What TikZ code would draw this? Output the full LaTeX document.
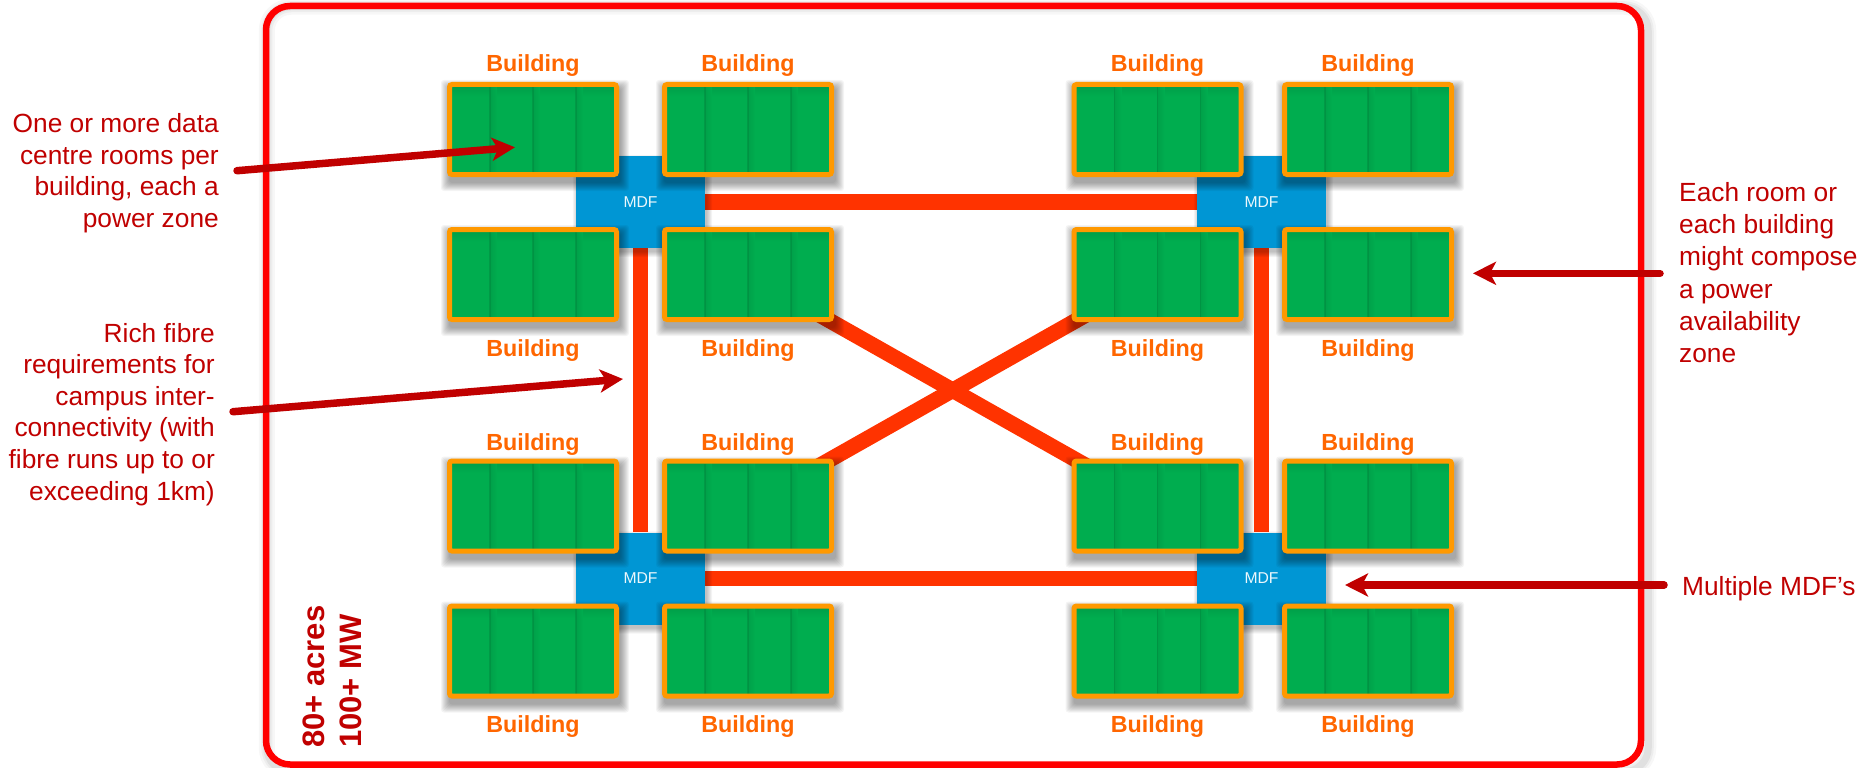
\documentclass[tikz,border=0pt]{standalone}
\usepackage{fontspec}
\setmainfont{Liberation Sans}
\usetikzlibrary{arrows.meta}

\definecolor{frameRed}{HTML}{FF0000}
\definecolor{bGreen}{HTML}{00AD4F}
\definecolor{bGreenDark}{HTML}{00A049}
\definecolor{bOrange}{HTML}{FF9900}
\definecolor{labOrange}{HTML}{FF6600}
\definecolor{mdfBlue}{HTML}{0096D4}
\definecolor{fibreRed}{HTML}{FF3300}
\definecolor{noteRed}{HTML}{C00000}

\pgfdeclarelayer{bg}
\pgfdeclarelayer{mdf}
\pgfdeclarelayer{shade}
\pgfsetlayers{bg,mdf,shade,main}

% soft drop shadow under a node: #1 node, #2 right offset, #3 down offset, #4 blur steps
\newcommand\softshadow[4]{%
  \foreach \k in {0,...,#4}{%
    \fill[black, opacity=0.045, rounded corners=3pt]
      ([xshift=#2pt-\k pt, yshift=-#3pt-\k pt]#1.south west) rectangle
      ([xshift=#2pt+\k pt, yshift=-#3pt+\k pt]#1.north east);
  }}

\begin{document}
\begin{tikzpicture}[x=1pt, y=-1pt,
  bldg/.style={draw=bOrange, line width=5pt, fill=bGreen, rounded corners=2.5pt,
    minimum width=167pt, minimum height=90pt, inner sep=0pt,
    path picture={
      \begin{scope}[shift={(path picture bounding box.center)}, sharp corners]
        \shade[top color=bGreenDark, bottom color=bGreen] (-81,-42.5) rectangle (81,-33);
        \foreach \dx in {-43,0,43}{
          \shade[left color=bGreenDark, right color=bGreen] (\dx,-42.5) rectangle (\dx+7,42.5);
          \fill[bGreenDark!85!black, opacity=0.5] (\dx-0.6,-42.5) rectangle (\dx+0.9,42.5);
        }
      \end{scope}
    }},
  blabel/.style={inner sep=0pt, anchor=base, text=labOrange,
    font=\fontsize{23.3}{28}\selectfont\bfseries},
  mdfbox/.style={fill=mdfBlue, minimum width=129pt, minimum height=92pt, inner sep=0pt,
    text=white!92!mdfBlue, font=\fontsize{15.7}{18}\selectfont},
  fibre/.style={draw=fibreRed, line width=15.5pt},
  note/.style={inner sep=0pt, text=noteRed, font=\fontsize{26.3}{31.6}\selectfont},
  annarrow/.style={draw=noteRed, line width=7.5pt, line cap=round,
    -{Stealth[length=23pt, width=23pt, inset=6pt]}}
]
\useasboundingbox (0,0) rectangle (1864,768);

\begin{pgfonlayer}{bg}
  \fill[white] (0,0) rectangle (1864,768);
\end{pgfonlayer}

% campus boundary
\node[draw=frameRed, line width=6.5pt, rounded corners=24pt, minimum width=1375pt,
  minimum height=758.5pt, inner sep=0pt] (campus) at (953.5,385.25) {};
\begin{pgfonlayer}{bg}
  \foreach \w/\o in {16/0.03, 11/0.04, 7/0.05}{
    \draw[black, opacity=\o, line width=\w pt, rounded corners=24pt]
      ([xshift=4pt, yshift=-4pt]campus.south west) rectangle ([xshift=4pt, yshift=-4pt]campus.north east);
  }
\end{pgfonlayer}

% main distribution frames
\begin{pgfonlayer}{mdf}
  \node[mdfbox] (mTL) at (640.5,202) {MDF};
  \node[mdfbox] (mTR) at (1261.5,202) {MDF};
  \node[mdfbox] (mBL) at (640.5,578.5) {MDF};
  \node[mdfbox] (mBR) at (1261.5,578.5) {MDF};
\end{pgfonlayer}

% buildings with their shadows
\foreach \ri/\yy in {1/129.5, 2/274.5, 3/506, 4/651}{
  \foreach \ci/\xx in {1/533, 2/748, 3/1157.5, 4/1368}{
    \node[bldg] (b\ri\ci) at (\xx,\yy) {};
    \begin{pgfonlayer}{shade}
      \softshadow{b\ri\ci}{2}{6}{8}
    \end{pgfonlayer}
  }
}

% building labels
\foreach \ci in {1,...,4}{
  \node[blabel] (l1\ci) at ([yshift=10.5pt]b1\ci.north) {Building};
  \node[blabel] (l2\ci) at ([yshift=-34.5pt]b2\ci.south) {Building};
  \node[blabel] (l3\ci) at ([yshift=8.5pt]b3\ci.north) {Building};
  \node[blabel] (l4\ci) at ([yshift=-33.5pt]b4\ci.south) {Building};
}

% fibre runs between MDFs and across the campus
\begin{pgfonlayer}{bg}
  \draw[fibre] (mTL) -- (mTR);
  \draw[fibre] (mBL) -- (mBR);
  \draw[fibre] (mTL) -- (mBL);
  \draw[fibre] (mTR) -- (mBR);
  \draw[fibre] (b22.center) -- (b33.center);
  \draw[fibre] (b23.center) -- (b32.center);
  \softshadow{mTL}{2}{4}{5}
  \softshadow{mTR}{2}{4}{5}
  \softshadow{mBL}{2}{4}{5}
  \softshadow{mBR}{2}{4}{5}
\end{pgfonlayer}

% campus size
\node[rotate=90, anchor=base west, inner sep=0pt, text=noteRed,
  font=\fontsize{31}{37}\selectfont\bfseries] (size) at (324,748)
  {\begin{tabular}[t]{@{}l@{}}80+ acres\\100+ MW\end{tabular}};

% notes
\node[note, anchor=base east] (t1) at (219,132.7)
  {\begin{tabular}[t]{@{}r@{}}One or more data\\centre rooms per\\building, each a\\power zone\end{tabular}};
\node[note, anchor=base east] (t2) at (215,342)
  {\begin{tabular}[t]{@{}r@{}}Rich fibre\\requirements for\\campus inter-\\connectivity (with\\fibre runs up to or\\exceeding 1km)\end{tabular}};
\node[note, anchor=base west, font=\fontsize{26.3}{32.2}\selectfont] (t3) at (1679,201.5)
  {\begin{tabular}[t]{@{}l@{}}Each room or\\each building\\might compose\\a power\\availability\\zone\end{tabular}};
\node[note, anchor=base west] (t4) at (1682,595) {Multiple MDF's};

\coordinate (a1s) at (237,170.7);
\coordinate (a1e) at (515,147.3);
\coordinate (a2s) at (233,411.7);
\coordinate (a2e) at (623,379);
\coordinate (a3s) at (1660,273.3);
\coordinate (a3e) at (1473,273.3);
\coordinate (a4s) at (1664,585);
\coordinate (a4e) at (1345,585);
\draw[annarrow] (a1s) -- (a1e);
\draw[annarrow] (a2s) -- (a2e);
\draw[annarrow] (a3s) -- (a3e);
\draw[annarrow] (a4s) -- (a4e);
\end{tikzpicture}
\end{document}
